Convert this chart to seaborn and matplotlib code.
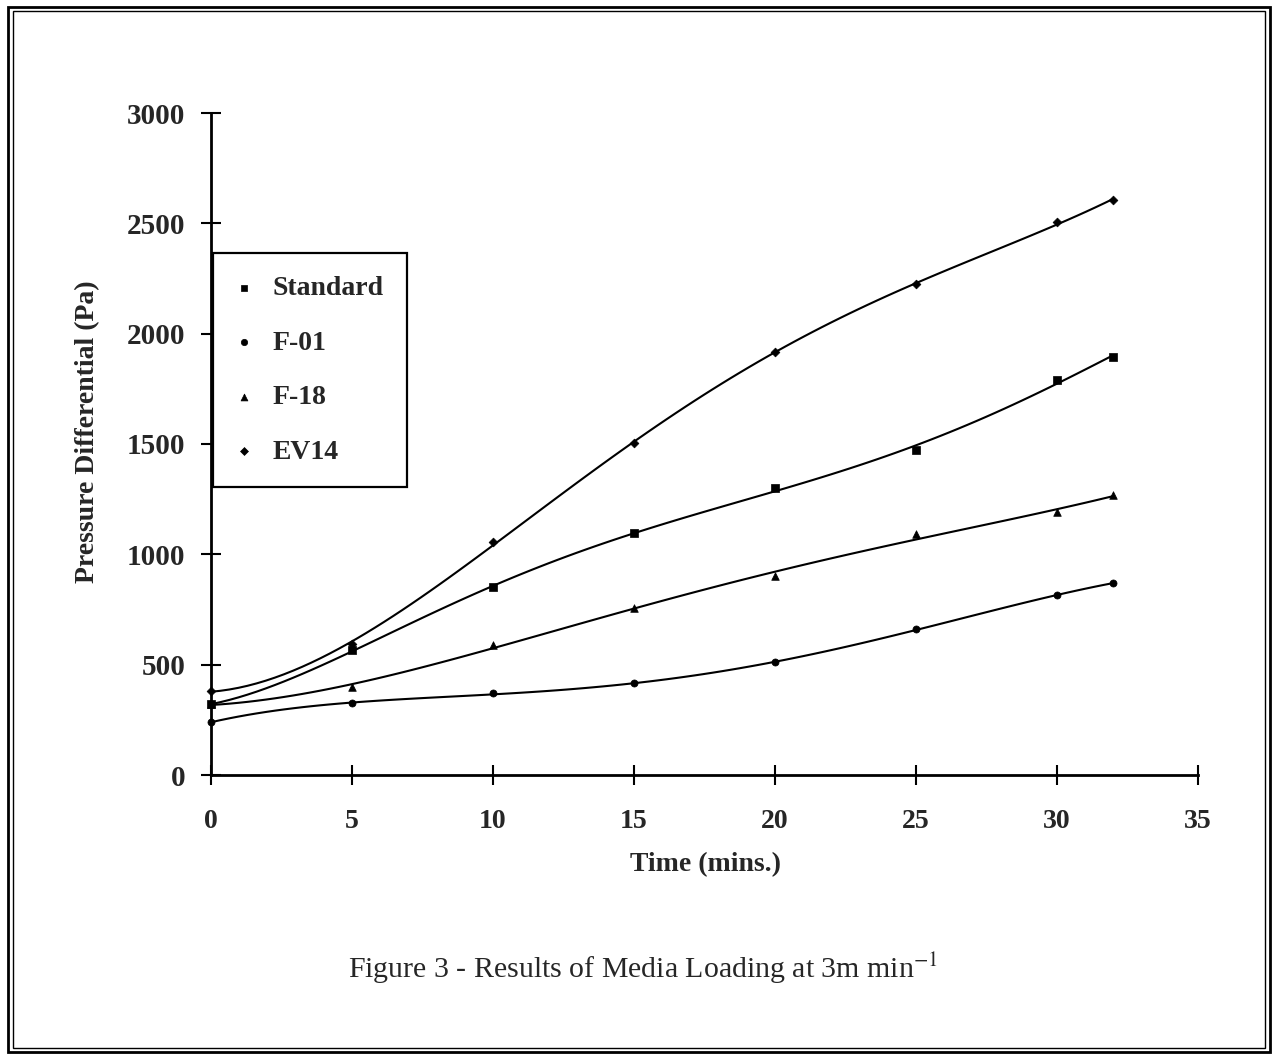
import matplotlib
matplotlib.use("Agg")
import matplotlib.pyplot as plt
import seaborn as sns
import numpy as np
import pandas as pd
from matplotlib.patches import Rectangle

# ---- data ----
time_mins = [0, 5, 10, 15, 20, 25, 30, 32]
series_names = ["Standard", "F-01", "F-18", "EV14"]
standard = [320, 565, 850, 1095, 1300, 1475, 1790, 1895]
f01 = [240, 325, 370, 415, 510, 660, 815, 870]
f18 = [320, 400, 590, 755, 900, 1090, 1190, 1270]
ev14 = [380, 595, 1055, 1505, 1915, 2225, 2505, 2605]
x_ticks = [0, 5, 10, 15, 20, 25, 30, 35]
y_ticks = [0, 500, 1000, 1500, 2000, 2500, 3000]

series_values = [standard, f01, f18, ev14]
series_markers = ["s", "o", "^", "D"]
marker_sizes = [26, 26, 30, 20]
fit_orders = [5, 4, 4, 4]

frames = []
for name, vals in zip(series_names, series_values):
    frames.append(pd.DataFrame({"Time": time_mins, "Pressure": vals, "Media": name}))
df = pd.concat(frames, ignore_index=True)

sns.set_style("ticks")
plt.rcParams["font.family"] = ["Liberation Serif", "DejaVu Serif"]
plt.rcParams["mathtext.fontset"] = "stix"

W, H = 1278, 1059
fig = plt.figure(figsize=(W / 100, H / 100), dpi=100)
fig.patch.set_facecolor("white")

# axes: x 0 -> px 211, 35 -> px 1198 ; y 0 -> px 775, 3000 -> px 113
ax = fig.add_axes([211 / W, 1 - 775 / H, (1198 - 211) / W, (775 - 113) / H])
ax.set_facecolor("white")

for name, m, s, order in zip(series_names, series_markers, marker_sizes, fit_orders):
    sub = df[df["Media"] == name]
    sns.regplot(data=sub, x="Time", y="Pressure", order=order, ci=None,
                scatter=False, ax=ax,
                line_kws=dict(color="black", lw=1.5, solid_capstyle="round"))
    sns.scatterplot(data=sub, x="Time", y="Pressure", marker=m, s=s,
                    color="black", edgecolor="black", linewidth=0.5,
                    ax=ax, label=name, clip_on=False, zorder=5)

ax.set_xlim(0, 35)
ax.set_ylim(0, 3000)
ax.set_xticks(x_ticks)
ax.set_yticks(y_ticks)
ax.set_xticklabels([str(t) for t in x_ticks], fontsize=20, fontweight="bold")
ax.set_yticklabels([str(t) for t in y_ticks], fontsize=21, fontweight="bold")
ax.tick_params(axis="both", direction="inout", length=15, width=1.5, color="black")
ax.tick_params(axis="x", pad=17)
ax.tick_params(axis="y", pad=11)

for side in ["top", "right"]:
    ax.spines[side].set_visible(False)
for side in ["left", "bottom"]:
    ax.spines[side].set_linewidth(2.0)
    ax.spines[side].set_color("black")

ax.set_xlabel("Time (mins.)", fontsize=20, fontweight="bold")
ax.set_ylabel("Pressure Differential (Pa)", fontsize=20, fontweight="bold")
ax.xaxis.set_label_coords((706 - 211) / (1198 - 211), (775 - 852) / (775 - 113))
ax.yaxis.set_label_coords((100 - 211) / (1198 - 211), (775 - 432) / (775 - 113))

handles, labels = ax.get_legend_handles_labels()
leg = ax.legend(handles, labels, loc="upper left",
                bbox_to_anchor=(213 / W, 1 - 253 / H),
                bbox_transform=fig.transFigure, borderaxespad=0,
                frameon=True, fancybox=False, framealpha=1,
                edgecolor="black", borderpad=0.81, labelspacing=1.05,
                handlelength=0.6, handletextpad=0.75,
                prop=dict(family="Liberation Serif", weight="bold", size=20),
                markerscale=0.9)
leg.get_frame().set_linewidth(1.6)

fig.text(643 / W, 1 - 968 / H, "Figure 3 - Results of Media Loading at 3m min$^{-1}$",
         ha="center", va="center", fontsize=21.5, family="Liberation Serif")

# page frame (double border)
fig.add_artist(Rectangle((8 / W, 7 / H), (1270 - 8) / W, (1052 - 7) / H,
                         transform=fig.transFigure, fill=False, lw=2.0, ec="black"))
fig.add_artist(Rectangle((13 / W, 11 / H), (1265 - 13) / W, (1048 - 11) / H,
                         transform=fig.transFigure, fill=False, lw=1.0, ec="black"))

fig.savefig("out.png", dpi=100, facecolor="white")
